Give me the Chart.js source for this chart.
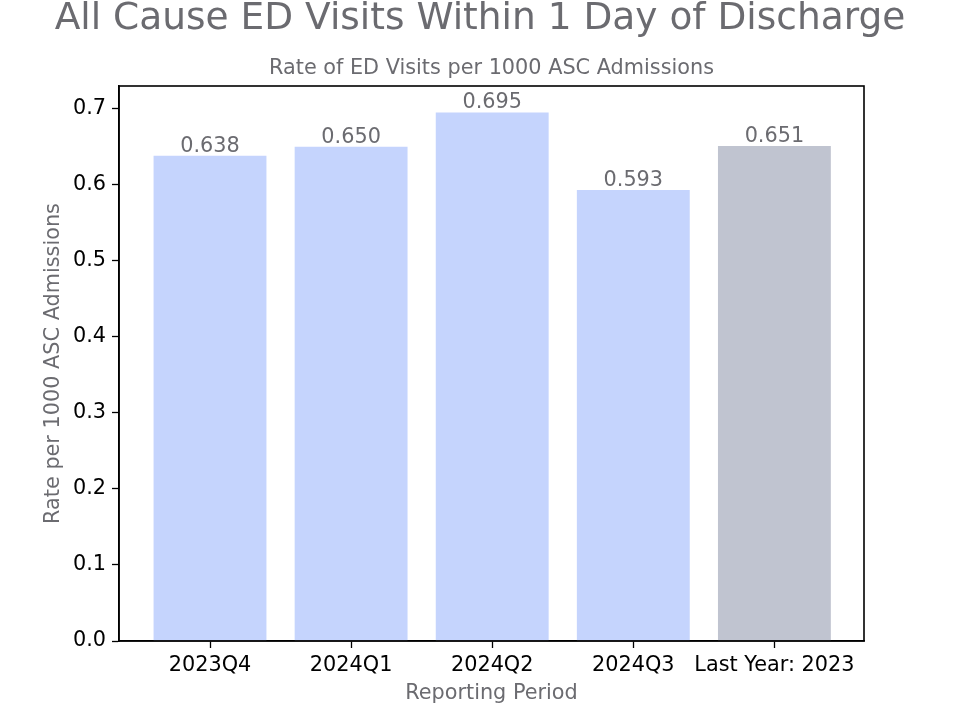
<!DOCTYPE html>
<html>
<head>
<meta charset="utf-8">
<script src="https://cdn.jsdelivr.net/npm/chart.js@4/dist/chart.umd.min.js"></script>
<style>
  html, body { margin: 0; padding: 0; background: #fff; }
  #wrap { width: 960px; height: 720px; }
</style>
</head>
<body>
<div id="wrap"><canvas id="myChart" width="960" height="720"></canvas></div>
<script>
// data
const periods = ['2023Q4', '2024Q1', '2024Q2', '2024Q3', 'Last Year: 2023'];
const rates = [0.638, 0.650, 0.695, 0.593, 0.651];
const barColors = ['#c5d4fd', '#c5d4fd', '#c5d4fd', '#c5d4fd', '#c0c4d0'];
const yTicks = [0, 0.1, 0.2, 0.3, 0.4, 0.5, 0.6, 0.7];

const grey = '#6b6b70';
const font = 'DejaVu Sans';
const fs = 20.8;

// frame, titles, axis labels, value labels
const extras = {
  id: 'extras',
  afterDatasetsDraw(chart) {
    const ctx = chart.ctx;
    const a = chart.chartArea;
    ctx.save();
    // value labels above bars
    ctx.fillStyle = grey;
    ctx.font = fs + 'px "' + font + '"';
    ctx.textAlign = 'center';
    ctx.textBaseline = 'alphabetic';
    chart.getDatasetMeta(0).data.forEach((bar, i) => {
      ctx.fillText(rates[i].toFixed(3), bar.x, bar.y - 4);
    });
    // box
    ctx.strokeStyle = '#000';
    ctx.lineWidth = 1.6;
    ctx.strokeRect(a.left, a.top, a.right - a.left, a.bottom - a.top);
    // titles
    ctx.font = '37.5px "' + font + '"';
    ctx.fillText('All Cause ED Visits Within 1 Day of Discharge', 480, 29);
    ctx.font = fs + 'px "' + font + '"';
    ctx.fillText('Rate of ED Visits per 1000 ASC Admissions', (a.left + a.right) / 2, 74);
    // axis labels
    ctx.fillText('Reporting Period', (a.left + a.right) / 2, 699);
    ctx.translate(59, (a.top + a.bottom) / 2);
    ctx.rotate(-Math.PI / 2);
    ctx.fillText('Rate per 1000 ASC Admissions', 0, 0);
    ctx.restore();
  }
};

let myChart = new Chart(document.getElementById('myChart').getContext('2d'), {
  type: 'bar',
  data: {
    datasets: [{
      data: rates.map((v, i) => ({ x: i, y: v })),
      backgroundColor: barColors,
      barPercentage: 0.8,
      categoryPercentage: 1.0
    }]
  },
  options: {
    responsive: false,
    animation: false,
    layout: { padding: { top: 86, right: 96, left: 0, bottom: 0 } },
    plugins: { legend: { display: false }, tooltip: { enabled: false }, title: { display: false } },
    scales: {
      x: {
        type: 'linear',
        min: -0.645,
        max: 4.635,
        offset: false,
        afterBuildTicks: (s) => { s.ticks = periods.map((p, i) => ({ value: i })); },
        afterFit: (s) => { s.height = 79; },
        ticks: {
          autoSkip: false,
          maxRotation: 0,
          color: '#000',
          font: { family: font, size: fs },
          padding: 5,
          callback: (v) => periods[v]
        },
        grid: { display: true, offset: false, drawOnChartArea: false, tickLength: 7, tickColor: '#000', tickWidth: 1.3 },
        border: { display: true, color: '#000', width: 1.6 }
      },
      y: {
        min: 0,
        max: 0.72975,
        afterBuildTicks: (s) => { s.ticks = yTicks.map(v => ({ value: v })); },
        afterFit: (s) => { s.width = 119; },
        ticks: {
          color: '#000',
          font: { family: font, size: fs },
          padding: 6,
          callback: (v) => v.toFixed(1)
        },
        grid: { display: true, drawOnChartArea: false, tickLength: 7, tickColor: '#000', tickWidth: 1.3 },
        border: { display: true, color: '#000', width: 1.6 }
      }
    }
  },
  plugins: [extras]
});
</script>
</body>
</html>
